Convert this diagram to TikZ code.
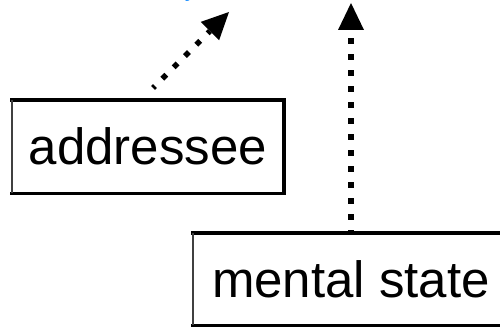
\documentclass[tikz,border=0pt]{standalone}
\usepackage{fontspec}
\setmainfont{Liberation Sans}
\usetikzlibrary{arrows.meta}
\definecolor{linkblue}{RGB}{30,144,255}
\tikzset{
  boxlabel/.style={font=\fontsize{51}{51}\selectfont, inner sep=0pt, draw=none},
  heavyedge/.style={line width=4pt, line cap=rect},
  midedge/.style={line width=3pt, line cap=rect},
  lightedge/.style={line width=1.5pt, black!75},
  dotarrow/.style={line width=5.5pt, line cap=butt, dash pattern=on 5.5pt off 10.5pt, dash phase=2.75pt,
    -{Triangle[length=27pt,width=26pt,line width=0pt]}}
}
\begin{document}
\begin{tikzpicture}[x=1pt,y=1pt]
\useasboundingbox (0,0) rectangle (500,327);
\clip (0,0) rectangle (500,327);
% partly visible blue text at the top edge
\node[text=linkblue, font=\fontsize{24}{24}\selectfont, inner sep=0pt, anchor=base east] (blue) at (197,330) {y};
% addressee box
\node[boxlabel, minimum width=272pt, minimum height=93pt] (addr) at (148,180.5) {addressee};
\draw[heavyedge] (addr.north west) -- (addr.north east);
\draw[heavyedge] (addr.north east) -- (addr.south east);
\draw[midedge] (addr.south west) -- (addr.south east);
\draw[lightedge] (addr.north west) -- (addr.south west);
% mental state box
\node[boxlabel, minimum width=316pt, minimum height=92pt] (ment) at (351,48) {mental state};
\draw[heavyedge] (ment.north west) -- (ment.north east);
\draw[midedge] (ment.south west) -- (ment.south east);
\draw[lightedge] (ment.north west) -- (ment.south west);
% arrows
\coordinate (s1) at (153,239);
\coordinate (t1) at (229,315);
\coordinate (t2) at (351,324);
\draw[dotarrow] (s1) -- (t1);
\draw[dotarrow] (ment.north) -- (t2);
\end{tikzpicture}
\end{document}
